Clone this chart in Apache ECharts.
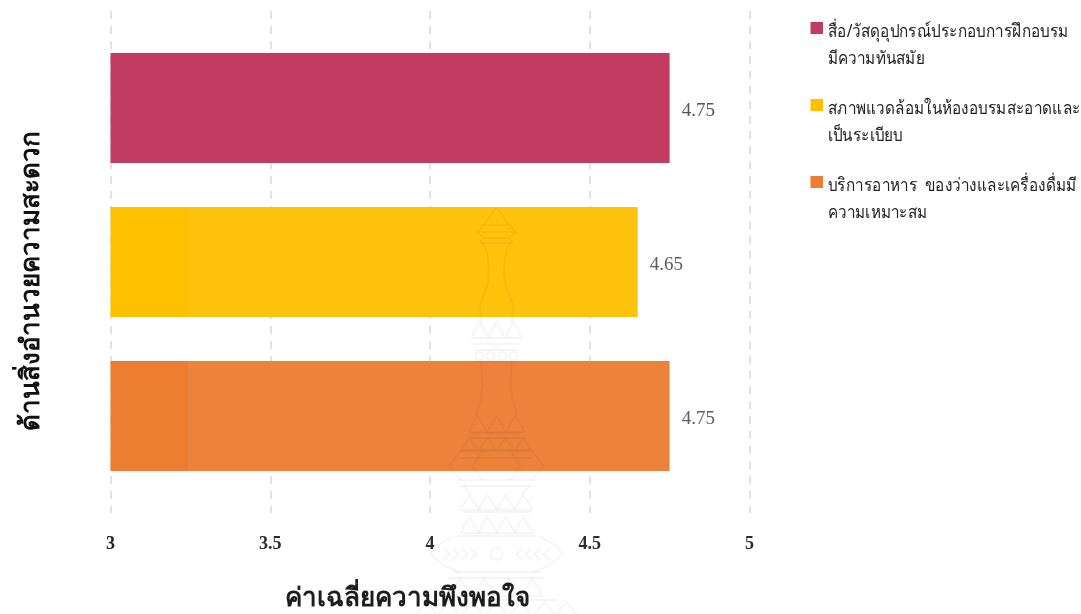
<!DOCTYPE html>
<html><head><meta charset="utf-8">
<style>html,body{margin:0;padding:0;background:#fff}#c{width:1081px;height:614px}</style>
<script src="https://cdn.jsdelivr.net/npm/echarts@6/dist/echarts.min.js"></script></head>
<body><div id="c"></div>
<script>
const seriesNames=['สื่อ/วัสดุอุปกรณ์ประกอบการฝึกอบรมมีความทันสมัย','สภาพแวดล้อมในห้องอบรมสะอาดและเป็นระเบียบ','บริการอาหาร ของว่างและเครื่องดื่มมีความเหมาะสม'];
const legendText=['สื่อ/วัสดุอุปกรณ์ประกอบการฝึกอบรม\nมีความทันสมัย','สภาพแวดล้อมในห้องอบรมสะอาดและ\nเป็นระเบียบ','บริการอาหาร  ของว่างและเครื่องดื่มมี\nความเหมาะสม'];
const values=[4.75,4.65,4.75];
const colors=['#c23c62','#ffc000','#ed7d31'];
const category=['ด้านสิ่งอำนวยความสะดวก'];
const xTitle='ค่าเฉลี่ยความพึงพอใจ', yTitle='ด้านสิ่งอำนวยความสะดวก';
const thai='"Noto Sans","Noto Sans CJK SC",sans-serif';
const serif='"Liberation Serif",serif';

// decorative watermark (the faint crest behind the reference chart)
const cx=496.5, ink='rgba(0,0,0,0.04)';
const wm=[];
function stroke(points){wm.push({type:'polyline',silent:true,z:100,shape:{points},style:{stroke:ink,lineWidth:2,fill:'none'}});}
function mirror(half){stroke(half.map(p=>[cx-p[0],p[1]]));stroke(half.map(p=>[cx+p[0],p[1]]));}
function band(h,y){stroke([[cx-h,y],[cx+h,y]]);}
function tri(dx,y0,y1,w){stroke([[cx+dx-w,y1],[cx+dx-w*0.7,y1-(y1-y0)*0.35],[cx+dx,y0],[cx+dx+w*0.7,y1-(y1-y0)*0.35],[cx+dx+w,y1],[cx+dx-w,y1]]);}
function triRow(dxs,y0,y1,w){dxs.forEach(d=>tri(d,y0,y1,w));}
mirror([[0,207],[12,224],[19,232],[13,238],[16,242],[12,245],[9,255],[7.5,270],[9,285],[17,307],[15,323]]);
band(13,225);band(18,232);band(13,238);band(15,243);
triRow([-17,0,17],322,338,8);
band(24,344);band(22,350);band(22,362);
[-17,-6,6,17].forEach(d=>wm.push({type:'circle',silent:true,z:100,shape:{cx:cx+d,cy:356,r:4},style:{stroke:ink,lineWidth:2,fill:'none'}}));
mirror([[15,362],[14,385],[16,400],[21,416]]);
triRow([-19,0,19],416,432,9);
band(25,433);band(27,438);
triRow([-27,-9,9,27],438,450,8);
band(36,451);
mirror([[36,451],[47,466],[36,480]]);mirror([[14,451],[24,466],[14,480]]);
band(36,458);band(38,480);band(38,486);
mirror([[33,486],[25,495]]);
triRow([-9,9,-27,27],495,510,9);
band(34,512);
triRow([-27,-9,9,27],517,533,9);
band(40,536);
mirror([[42,536],[60,546],[66,554],[52,566],[36,572]]);
[-50,-41,-32,-23,23,32,41,50].forEach(d=>{const s=d<0?-1:1;stroke([[cx+d+3*s,548],[cx+d-3*s,554],[cx+d+3*s,560]]);});
wm.push({type:'circle',silent:true,z:100,shape:{cx:cx,cy:554,r:6},style:{stroke:ink,lineWidth:2,fill:'none'}});
band(44,572);band(48,578);
triRow([-36,-12,12,36],578,596,10);
band(60,600);
triRow([-70,-48,-24,0,24,48,70],602,616,11);

const chart=echarts.init(document.getElementById('c'));
chart.setOption({
 animation:false,
 grid:{left:110.5,right:331.5,top:11,bottom:101,outerBoundsMode:'none'},
 xAxis:{type:'value',min:3,max:5,interval:0.5,axisLine:{show:false},axisTick:{show:false},
  axisLabel:{color:'#222',fontFamily:serif,fontWeight:'bold',fontSize:18,margin:22},
  splitLine:{show:true,lineStyle:{color:'#d9d9d9',type:[8,7],width:1.5}},
  name:xTitle,nameLocation:'middle',nameGap:73,nameTextStyle:{fontFamily:thai,fontWeight:'bold',fontSize:26,color:'#111',padding:[0,46,0,0]}},
 yAxis:{type:'category',inverse:true,data:category,axisLine:{show:false},axisTick:{show:false},axisLabel:{show:false},
  name:yTitle,nameLocation:'middle',nameGap:66,nameRotate:90,nameTextStyle:{fontFamily:thai,fontWeight:'bold',fontSize:26,color:'#111',padding:[0,38,0,0]}},
 legend:{show:false},
 series:seriesNames.map((n,i)=>({type:'bar',name:n,data:[values[i]],barWidth:110,barGap:'40%',
  itemStyle:{color:colors[i]},
  label:{show:true,position:'right',distance:12,offset:[0,3],color:'#555',fontFamily:serif,fontSize:19}})),
 graphic:[
  {type:'rect',silent:true,z:99,x:188,y:175,shape:{width:616,height:439},style:{fill:'rgba(255,255,255,0.05)'}},
  ...wm,
  ...legendText.flatMap((t,i)=>[
  {type:'rect',x:810.5,y:22+i*77,shape:{width:12.5,height:12},style:{fill:colors[i]}},
  {type:'text',x:828,y:18+i*77,scaleX:0.85,style:{text:t,font:'18px '+thai,fill:'#222',lineHeight:27}}
 ])]
});
</script></body></html>
